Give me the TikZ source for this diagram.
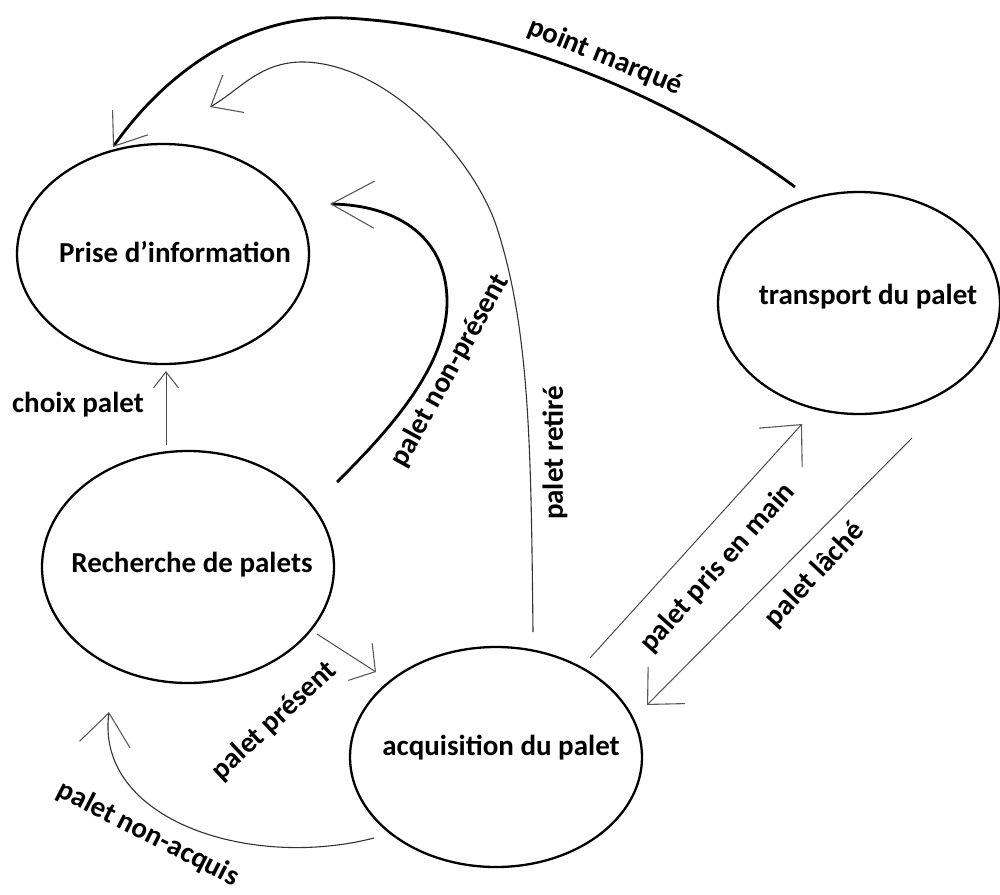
\documentclass[tikz,border=0pt]{standalone}
\usepackage{fontspec}
\setmainfont{Carlito}
\usetikzlibrary{arrows.meta,shapes.geometric}
\newcommand\lblfont{\fontsize{29}{34}\selectfont\bfseries}
\begin{document}
\begin{tikzpicture}[x=1pt,y=-1pt,
  state/.style={ellipse, draw, line width=2.3pt, inner sep=0pt, minimum width=292pt, minimum height=220pt},
  lbl/.style={font=\lblfont, inner sep=0pt},
  thinedge/.style={draw=black!70, line width=1pt},
  curvethin/.style={draw=black!80, line width=1.1pt},
  curvethick/.style={draw=black, line width=2.8pt},
  barbtip/.style 2 args={-{Straight Barb[length=#1pt,width=#2pt,line width'=1.1pt,color=black!65]}},
]
\useasboundingbox (0,0) rectangle (1000,894);

% states
\node[state, label={[lbl,xshift=12pt,yshift=2pt]center:Prise d’information}] (prise) at (163,254) {};
\node[state, minimum height=232pt, label={[lbl,xshift=4pt,yshift=2pt]center:Recherche de palets}] (rech) at (188,567) {};
\node[state, label={[lbl,xshift=5pt,yshift=9pt]center:acquisition du palet}] (acq) at (496,757) {};
\node[state, minimum width=282pt, minimum height=222pt, label={[lbl,xshift=9pt,yshift=6pt]center:transport du palet}] (trans) at (859,303) {};

% straight transitions
\draw[thinedge, barbtip={16}{25}] ([shift={(-22,-122)}]rech.center) -- ([shift={(3,117)}]prise.center);
\draw[thinedge, barbtip={18}{44}] ([shift={(129,67)}]rech.center) -- ([shift={(-120,-85)}]acq.center);
\draw[thinedge, barbtip={31}{58}] ([shift={(94,-99)}]acq.center) -- ([shift={(-57,121)}]trans.center);
\draw[thinedge, barbtip={27}{52}] ([shift={(53,135)}]trans.center) -- ([shift={(151,-52)}]acq.center);

% curved transitions
\draw[curvethick, barbtip={43}{47}] ([shift={(149,-85)}]rech.center)
  .. controls (400,420) and (448,360) .. (447,300)
  .. controls (446,235) and (395,205) .. ([shift={(167,-50)}]prise.center);
\draw[curvethin, barbtip={26}{43}] ([shift={(37,-125)}]acq.center)
  .. controls (531,450) and (530,330) .. (497,228)
  .. controls (475,160) and (390,65) .. (305,62)
  .. controls (260,61) and (240,90) .. ([shift={(47,-147)}]prise.center);
\draw[curvethick, barbtip={29}{43}] ([shift={(-64,-116)}]trans.center)
  .. controls (650,80) and (480,25) .. (345,18)
  .. controls (240,13) and (160,80) .. ([shift={(-50,-107)}]prise.center);
\draw[curvethin, barbtip={32}{51}] ([shift={(-122,81)}]acq.center)
  .. controls (250,870) and (95,820) .. ([shift={(-79,145)}]rech.center);

% labels
\node[lbl] (lchoix) at (78,405) {choix palet};
\node[lbl, rotate=43] (lpres) at (274,721) {palet présent};
\node[lbl, rotate=-27] (lnacq) at (148,834) {palet non-acquis};
\node[lbl, rotate=61] (lnpres) at (450,371) {palet non-présent};
\node[lbl, rotate=90] (lret) at (555,453) {palet retiré};
\node[lbl, rotate=-22] (lpoint) at (605,57) {point marqué};
\node[lbl, rotate=48] (lpris) at (718,568) {palet pris en main};
\node[lbl, rotate=47] (llache) at (815,575) {palet lâché};
\end{tikzpicture}
\end{document}
